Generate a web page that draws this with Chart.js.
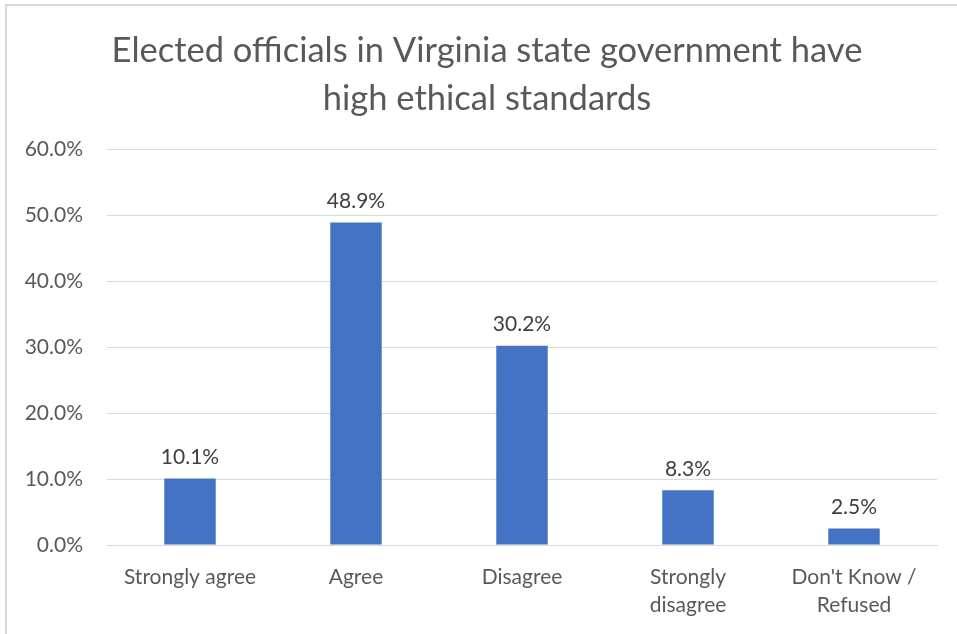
<!DOCTYPE html>
<html>
<head>
<meta charset="utf-8">
<script src="https://cdn.jsdelivr.net/npm/chart.js@4/dist/chart.umd.min.js"></script>
<style>
  html, body { margin:0; padding:0; background:#fff; overflow:hidden; }
  .frame { position:absolute; left:5px; top:4px; width:960px; height:640px; border:2px solid #d9d9d9; }
  canvas { display:block; }
</style>
</head>
<body>
<div class="frame"><canvas id="ethicsChart" width="960" height="628"></canvas></div>
<script>
const TITLE = ['Elected officials in Virginia state government have', 'high ethical standards'];
const categories = ['Strongly agree', 'Agree', 'Disagree', ['Strongly', 'disagree'], ["Don't Know /", 'Refused']];
const shares = [10.1, 48.9, 30.2, 8.3, 2.5];
const Y_MAX = 60;
const Y_STEP = 10;

const FONT = "Lato, 'Liberation Sans', sans-serif";
const pct = v => v.toFixed(1) + '%';

// value labels above each bar
const barLabels = {
  id: 'barLabels',
  afterDatasetsDraw(chart) {
    const ctx = chart.ctx;
    const meta = chart.getDatasetMeta(0);
    ctx.save();
    ctx.font = '21px ' + FONT;
    ctx.fillStyle = '#404040';
    ctx.textAlign = 'center';
    ctx.textBaseline = 'bottom';
    meta.data.forEach((bar, i) => {
      ctx.fillText(pct(shares[i]), bar.x, bar.y - 11);
    });
    ctx.restore();
  }
};

new Chart(document.getElementById('ethicsChart').getContext('2d'), {
  type: 'bar',
  data: {
    labels: categories,
    datasets: [{ data: shares, backgroundColor: '#4472c4', barPercentage: 0.62, categoryPercentage: 0.5 }]
  },
  options: {
    responsive: false, animation: false,
    layout: { padding: 0 },
    plugins: {
      legend: { display: false },
      tooltip: { enabled: false },
      title: {
        display: true, text: TITLE, color: '#595959',
        font: { family: FONT, size: 34.5, weight: 'normal', lineHeight: 1.38 },
        padding: { top: 21, bottom: 27 }
      }
    },
    scales: {
      y: {
        min: 0, max: Y_MAX,
        ticks: { stepSize: Y_STEP, callback: v => pct(v), color: '#595959', font: { family: FONT, size: 21 }, padding: 24 },
        grid: { color: '#d9d9d9', lineWidth: 1, drawTicks: false },
        border: { display: false },
        afterFit: s => { s.width = 100; }
      },
      // empty right-hand margin so the plot stops short of the frame
      gutter: {
        type: 'linear', position: 'right', min: 0, max: Y_MAX,
        ticks: { display: false }, grid: { display: false }, border: { display: false },
        afterFit: s => { s.width = 30; }
      },
      x: {
        ticks: { color: '#595959', font: { family: FONT, size: 21, lineHeight: 1.33 }, padding: 18, maxRotation: 0, autoSkip: false },
        grid: { display: false, drawTicks: false },
        border: { color: '#d9d9d9', width: 1 },
        afterFit: s => { s.height = 89; }
      }
    }
  },
  plugins: [barLabels]
});
</script>
</body>
</html>
